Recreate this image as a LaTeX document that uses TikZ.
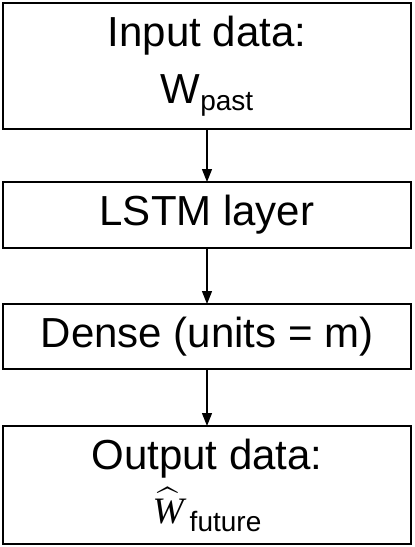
\documentclass[tikz,border=0pt]{standalone}
\usepackage{graphicx}
\usepackage{exscale}
\usepackage{fontspec}
\setmainfont{Liberation Sans}
\newfontfamily\hatfont{Liberation Serif}
\usetikzlibrary{positioning,arrows.meta}

\begin{document}
\begin{tikzpicture}[
  node distance=55pt,
  block/.style={
    rectangle, draw, line width=2pt,
    align=center, font=\fontsize{42}{57}\selectfont,
    inner sep=0pt, outer sep=0pt,
    minimum width=408pt
  },
  arrow/.style={-{Triangle[length=13pt,width=10pt]}, line width=1.4pt}
]

\useasboundingbox (0,0) rectangle (415pt,-547pt);

% =====================================================
% INPUT
% =====================================================

\node[block, minimum height=126pt] (input) at (207pt,-66pt)
{Input data:\\
W\raisebox{-7pt}{\fontsize{28}{28}\selectfont past}};

% =====================================================
% LAYERS
% =====================================================

\node[block, minimum height=66pt, below=53pt of input] (lstm)
{LSTM layer};

\draw[arrow] (input) -- (lstm);

\node[block, minimum height=65pt, below=56pt of lstm] (dense)
{Dense (units = m)};

\draw[arrow] (lstm) -- (dense);

% =====================================================
% OUTPUT
% =====================================================

\node[block, minimum height=118pt, below=57pt of dense] (output)
{Output data:\\[-3pt]
\scalebox{1.5}{\fontsize{24.88}{30}\selectfont$\widehat{\hbox{\hatfont\itshape W}}$}\hspace{6pt}\raisebox{-8pt}{\fontsize{28}{28}\selectfont future}};

\draw[arrow] (dense) -- (output);

\end{tikzpicture}
\end{document}
